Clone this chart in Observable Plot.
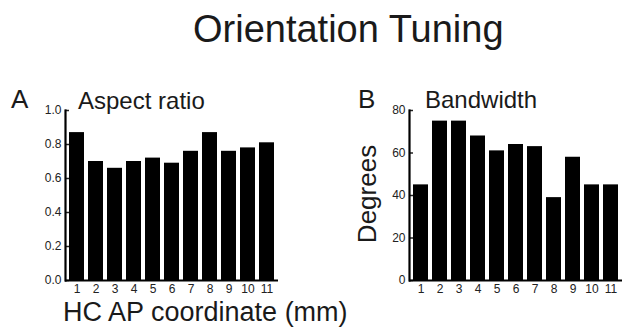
<!DOCTYPE html>
<html><head><meta charset="utf-8">
<script src="https://cdn.jsdelivr.net/npm/d3@7"></script>
<script src="https://cdn.jsdelivr.net/npm/@observablehq/plot@0.6"></script>
<style>
body{margin:0;background:#fff;font-family:"Liberation Sans",Arial,sans-serif;}
#wrap{position:relative;width:622px;height:329px;overflow:hidden;background:#fff;}
.t{position:absolute;white-space:nowrap;color:#1a1a1a;line-height:1;font-family:"Liberation Sans",Arial,sans-serif;}
#pa,#pb{position:absolute;top:0;}
#pa{left:0;} #pb{left:340px;}
</style></head><body>
<div id="wrap">
  <div id="pa"></div>
  <div id="pb"></div>
  <div class="t" style="left:193px;top:10px;font-size:38px;">Orientation Tuning</div>
  <div class="t" style="left:11px;top:86px;font-size:26px;">A</div>
  <div class="t" style="left:78px;top:89px;font-size:24px;">Aspect ratio</div>
  <div class="t" style="left:358px;top:86px;font-size:26px;">B</div>
  <div class="t" style="left:425px;top:88px;font-size:24px;">Bandwidth</div>
  <div class="t" style="left:367px;top:194px;font-size:26px;transform:translate(-50%,-50%) rotate(-90deg);">Degrees</div>
  <div class="t" style="left:63px;top:299px;font-size:27px;">HC AP coordinate (mm)</div>
</div>
<script>
const positions = ["1","2","3","4","5","6","7","8","9","10","11"];
const aspectRatio = [0.87, 0.70, 0.66, 0.70, 0.72, 0.69, 0.76, 0.87, 0.76, 0.78, 0.81];
const bandwidth = [45, 75, 75, 68, 61, 64, 63, 39, 58, 45, 45];
const aspectTicks = [0, 0.2, 0.4, 0.6, 0.8, 1.0];
const bandwidthTicks = [0, 20, 40, 60, 80];

function panel(values, ticks, domainMax, fmt, opts) {
  const data = positions.map((p, i) => ({pos: p, v: values[i]}));
  return Plot.plot({
    width: opts.width, height: 329,
    marginLeft: opts.ml, marginRight: opts.mr, marginTop: 110, marginBottom: 49,
    style: {fontFamily: "'Liberation Sans', Arial, sans-serif", fontSize: "12px", color: "#222", background: "transparent"},
    x: {domain: positions, paddingInner: 0.22, paddingOuter: 0.09, label: null},
    y: {domain: [0, domainMax], label: null},
    marks: [
      Plot.barY(data, {x: "pos", y: "v", fill: "black"}),
      Plot.axisX({tickSize: 0, tickPadding: 4, fontSize: 12, label: null}),
      Plot.axisY({ticks, tickFormat: fmt, tickSize: 0, tickPadding: 4, fontSize: 12, label: null}),
      Plot.axisY({ticks, tickSize: 4, dx: 4, text: null, strokeWidth: 1.5, label: null}),
      Plot.frame({anchor: "left", strokeWidth: 2.2, stroke: "black"}),
      Plot.ruleY([0], {strokeWidth: 2.2, stroke: "black"})
    ]
  });
}

document.getElementById("pa").append(panel(aspectRatio, aspectTicks, 1, d3.format(".1f"), {width: 300, ml: 65, mr: 22}));
document.getElementById("pb").append(panel(bandwidth, bandwidthTicks, 80, d3.format("d"), {width: 282, ml: 69, mr: 0}));
</script>
</body></html>
